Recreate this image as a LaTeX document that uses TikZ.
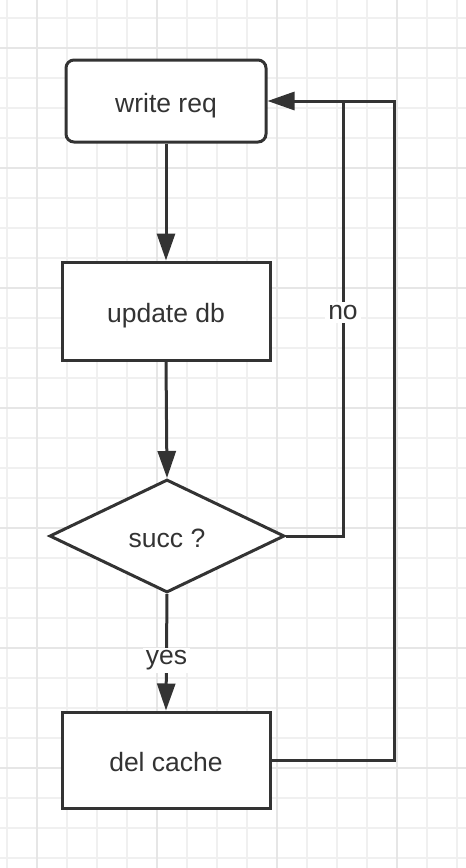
\documentclass[tikz,border=0pt]{standalone}
\usepackage{fontspec}
\setmainfont{Liberation Sans}
\usetikzlibrary{shapes.geometric,arrows.meta}
\definecolor{ink}{HTML}{333333}
\definecolor{gridminor}{HTML}{F0F0F0}
\definecolor{gridmajor}{HTML}{E6E6E6}
\tikzset{
  lbl/.style={font=\fontsize{26.5}{30}\selectfont, text=ink},
  boxnode/.style={draw=ink, line width=3pt, fill=white, lbl, inner sep=0pt, text depth=0pt, text height=23pt},
  conn/.style={draw=ink, line width=3pt},
  arr/.style={conn, -{Triangle[length=27pt,width=18pt]}},
  tag/.style={lbl, fill=white, inner sep=3pt}
}
\begin{document}
\begin{tikzpicture}[x=1pt,y=-1pt]
\useasboundingbox (0,0) rectangle (466,868);
\fill[white] (0,0) rectangle (466,868);
% grid
\foreach \i in {0,...,15} {
  \pgfmathtruncatemacro{\xx}{7+30*\i}
  \draw[gridminor, line width=1.5pt] (\xx,0) -- (\xx,868);
}
\foreach \i in {0,...,28} {
  \pgfmathtruncatemacro{\yy}{18+30*\i}
  \draw[gridminor, line width=1.5pt] (0,\yy) -- (466,\yy);
}
\foreach \xx in {37,157,277,397} \draw[gridmajor, line width=1.5pt] (\xx,0) -- (\xx,868);
\foreach \yy in {48,168,288,408,528,648,768} \draw[gridmajor, line width=1.5pt] (0,\yy) -- (466,\yy);

% nodes
\node[boxnode, rounded corners=8pt, minimum width=200pt, minimum height=82pt] (wr) at (166,101) {write req};
\node[boxnode, minimum width=208pt, minimum height=98pt] (ud) at (166,311) {update db};
\node[boxnode, diamond, minimum width=235pt, minimum height=113pt] (dec) at (167,536) {succ ?};
\node[boxnode, minimum width=208pt, minimum height=96pt] (dc) at (166,760) {del cache};

\coordinate (nocorner) at (343,101);
\coordinate (outcorner) at (394,101);

% connectors
\draw[arr] (wr.south) -- (ud.north);
\draw[arr] (ud.south) -- (dec.north);
\draw[arr] (dec.south) -- node[tag, pos=0.57] (yes) {yes} (dc.north);
\draw[conn] (dec.east) -| node[tag, pos=0.757] (no) {no} (nocorner);
\draw[conn] (dc.east) -| (outcorner) -- (nocorner);
\draw[arr] (nocorner) -- (wr.east);
\end{tikzpicture}
\end{document}
